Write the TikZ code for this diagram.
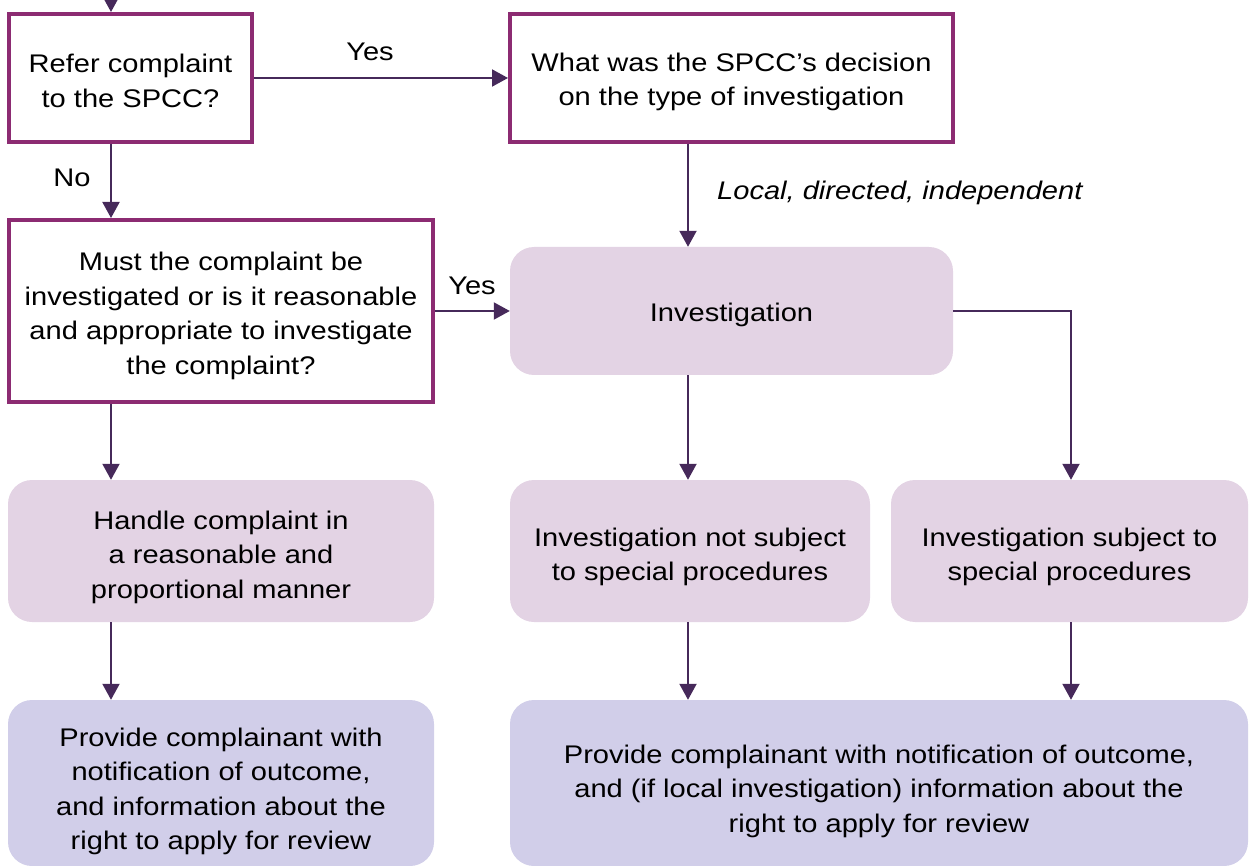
\documentclass[tikz,border=0pt]{standalone}
\usepackage{fontspec}
\setmainfont[FakeStretch=1.14]{Liberation Sans}
\usetikzlibrary{arrows.meta,positioning}
\definecolor{boxpurple}{HTML}{8C2B72}
\definecolor{arrowpurple}{HTML}{46295A}
\definecolor{pinkfill}{HTML}{E3D3E4}
\definecolor{lavfill}{HTML}{D1CEE9}
\begin{document}
\begin{tikzpicture}[x=1pt,y=-1pt,
  every node/.style={font=\fontsize{25.5}{34.5}\selectfont, inner sep=0pt, align=center},
  decision/.style={draw=boxpurple, line width=4pt, fill=white},
  process/.style={fill=pinkfill, rounded corners=24pt},
  outcome/.style={fill=lavfill, rounded corners=24pt},
  conn/.style={draw=arrowpurple, line width=2pt, -{Triangle[width=17pt,length=16pt]}},
  lbl/.style={text=black}
]
\useasboundingbox (0,0) rectangle (1250,866);
\coordinate (xl) at (111,0);
\coordinate (xm) at (688,0);
\coordinate (xr) at (1071,0);
\coordinate (top) at (111,-10);

\node[decision, minimum width=243pt, minimum height=128pt] (A) at (130.5,78) {};
\node[decision, minimum width=443pt, minimum height=128pt] (B) at (731.5,78) {};
\node[decision, minimum width=424pt, minimum height=182pt] (C) at (221,311) {};
\node[process, minimum width=443pt, minimum height=128pt] (D) at (731.5,311) {};
\node[process, minimum width=426pt, minimum height=142pt] (E) at (221,551) {};
\node[process, minimum width=360pt, minimum height=142pt] (F) at (690,551) {};
\node[process, minimum width=357pt, minimum height=142pt] (G) at (1069.5,551) {};
\node[outcome, minimum width=426pt, minimum height=166pt] (H) at (221,783) {};
\node[outcome, minimum width=738pt, minimum height=166pt] (I) at (879,783) {};

\node (At) at ([yshift=-3pt]A.center) {Refer complaint\\to the SPCC?};
\node (Bt) at ([yshift=-4pt]B.center) {What was the SPCC’s decision\\on the type of investigation};
\node (Ct) at ([yshift=-5pt]C.center) {Must the complaint be\\investigated or is it reasonable\\and appropriate to investigate\\the complaint?};
\node (Dt) at ([yshift=-4pt]D.center) {Investigation};
\node (Et) at ([yshift=-6pt]E.center) {Handle complaint in\\a reasonable and\\proportional manner};
\node (Ft) at ([yshift=-6pt]F.center) {Investigation not subject\\to special procedures};
\node (Gt) at ([yshift=-6pt]G.center) {Investigation subject to\\special procedures};
\node (Ht) at ([yshift=-8.5pt]H.center) {Provide complainant with\\notification of outcome,\\and information about the\\right to apply for review};
\node (It) at ([yshift=-8pt]I.center) {Provide complainant with notification of outcome,\\and (if local investigation) information about the\\right to apply for review};

\draw[conn] (top) -- (A.north -| xl);
\draw[conn] (A.east) -- (B.west);
\draw[conn] (A.south -| xl) -- (C.north -| xl);
\draw[conn] (B.south -| xm) -- (D.north -| xm);
\draw[conn] (C.east) -- (D.west);
\draw[conn] (C.south -| xl) -- (E.north -| xl);
\draw[conn] (D.south -| xm) -- (F.north -| xm);
\draw[conn] (D.east) -| (G.north -| xr);
\draw[conn] (E.south -| xl) -- (H.north -| xl);
\draw[conn] (F.south -| xm) -- (I.north -| xm);
\draw[conn] (G.south -| xr) -- (I.north -| xr);

\node[lbl] (yes1) at (370,52) {Yes};
\node[lbl] (no1) at (72,178) {No};
\node[lbl] (yes2) at (472,286) {Yes};
\node[lbl, anchor=west, font=\fontsize{25.5}{34.5}\selectfont\itshape] (ldi) at (717,193) {Local, directed, independent};
\end{tikzpicture}
\end{document}
